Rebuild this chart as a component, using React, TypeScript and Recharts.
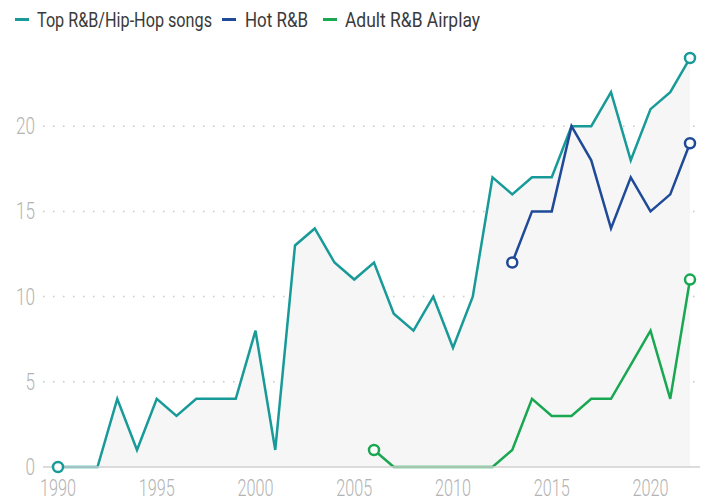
import React from "react";
import { ComposedChart, Line, Area, XAxis, YAxis, CartesianGrid } from "recharts";

const years = [1990,1991,1992,1993,1994,1995,1996,1997,1998,1999,2000,2001,2002,2003,2004,2005,2006,2007,2008,2009,2010,2011,2012,2013,2014,2015,2016,2017,2018,2019,2020,2021,2022];
const topRnbHipHop = [0,0,0,4,1,4,3,4,4,4,8,1,13,14,12,11,12,9,8,10,7,10,17,16,17,17,20,20,22,18,21,22,24];
const hotRnbYears = [2013,2014,2015,2016,2017,2018,2019,2020,2021,2022];
const hotRnb = [12,15,15,20,18,14,17,15,16,19];
const adultYears = [2006,2007,2008,2009,2010,2011,2012,2013,2014,2015,2016,2017,2018,2019,2020,2021,2022];
const adultRnb = [1,0,0,0,0,0,0,1,4,3,3,4,4,6,8,4,11];
const xTicks = [1990,1995,2000,2005,2010,2015,2020];
const yTicks = [0,5,10,15,20];
const legendLabels = ["Top R&B/Hip-Hop songs", "Hot R&B", "Adult R&B Airplay"];

const TEAL = "#179a98";
const NAVY = "#1f4a98";
const GREEN = "#19a752";
const legendColors = [TEAL, NAVY, GREEN];

const data = years.map((y, i) => {
  const hi = hotRnbYears.indexOf(y);
  const ai = adultYears.indexOf(y);
  return {
    year: y,
    top: topRnbHipHop[i],
    hot: hi >= 0 ? hotRnb[hi] : null,
    adult: ai >= 0 ? adultRnb[ai] : null,
  };
});

const FONT = "Roboto, 'DejaVu Sans', sans-serif";

const endDot = (color: string, first: number, last: number) => (props: any) => {
  const { cx, cy, payload, index } = props;
  if (payload && (payload.year === first || payload.year === last) && cy != null) {
    return <circle key={index} cx={cx} cy={cy} r={5} fill="#fff" stroke={color} strokeWidth={2.5} />;
  }
  return <g key={index} />;
};

const SX = 0.7;

const XTick = (props: any) => {
  const { x, payload } = props;
  const s = String(payload.value);
  return (
    <g transform={`translate(${x},496) scale(${SX},1)`}>
      <text x={0} y={0} textAnchor="middle" fill="#b3b3b3" fontSize={23} fontWeight={300} fontFamily={FONT}
        textLength={(s.length * 9) / SX} lengthAdjust="spacingAndGlyphs">{s}</text>
    </g>
  );
};

const YTick = (props: any) => {
  const { y, payload } = props;
  const s = String(payload.value);
  return (
    <g transform={`translate(35,${y + 8}) scale(${SX},1)`}>
      <text x={0} y={0} textAnchor="end" fill="#b3b3b3" fontSize={23} fontWeight={300} fontFamily={FONT}
        textLength={(s.length * 9.5) / SX} lengthAdjust="spacingAndGlyphs">{s}</text>
    </g>
  );
};

const LX = 0.82;
const legendPos = [
  { dash: 15, text: 37, w: 175 },
  { dash: 222, text: 245, w: 63 },
  { dash: 323, text: 345, w: 135 },
];

const LegendSvg = () => (
  <svg width={701} height={40} style={{ position: "absolute", left: 0, top: 0 }}>
    {legendLabels.map((l, i) => (
      <g key={l}>
        <line x1={legendPos[i].dash} x2={legendPos[i].dash + 14} y1={19.5} y2={19.5} stroke={legendColors[i]} strokeWidth={3} />
        <g transform={`translate(${legendPos[i].text},27) scale(${LX},1)`}>
          <text x={0} y={0} fill="#3a3a3a" fontSize={21} fontFamily={FONT}
            textLength={legendPos[i].w / LX} lengthAdjust="spacingAndGlyphs">{l}</text>
        </g>
      </g>
    ))}
  </svg>
);

export default function App() {
  return (
    <div style={{ position: "absolute", left: 0, top: 0, width: 701, height: 501, background: "#fff" }}>
      <ComposedChart width={701} height={501} data={data} margin={{ top: 41, right: 1, bottom: 0, left: 0 }}>
        <CartesianGrid vertical={false} horizontalValues={[5, 10, 15, 20]} stroke="#c8c8c8" strokeDasharray="1.5 8.5" strokeWidth={1.5} />
        <XAxis
          dataKey="year"
          type="number"
          domain={[1990, 2022]}
          ticks={xTicks}
          padding={{ left: 15, right: 10 }}
          height={34}
          tickLine={false}
          tickSize={0}
          tickMargin={0}
          axisLine={{ stroke: "#d0d0d0", strokeWidth: 1.5 }}
          tick={<XTick />}
        />
        <YAxis
          domain={[0, 25]}
          ticks={yTicks}
          width={43}
          axisLine={false}
          tickLine={false}
          tickSize={0}
          tickMargin={8}
          tick={<YTick />}
        />
        <Area dataKey="top" type="linear" fill="#f6f6f6" fillOpacity={1} stroke="none" isAnimationActive={false} legendType="none" activeDot={false} />
        <Line dataKey="top" type="linear" stroke={TEAL} strokeWidth={2.5} dot={endDot(TEAL, 1990, 2022)} activeDot={false} isAnimationActive={false} />
        <Line dataKey="hot" type="linear" stroke={NAVY} strokeWidth={2.5} dot={endDot(NAVY, 2013, 2022)} activeDot={false} isAnimationActive={false} />
        <Line dataKey="adult" type="linear" stroke={GREEN} strokeWidth={2.5} dot={endDot(GREEN, 2006, 2022)} activeDot={false} isAnimationActive={false} />
      </ComposedChart>
      <LegendSvg />
    </div>
  );
}
